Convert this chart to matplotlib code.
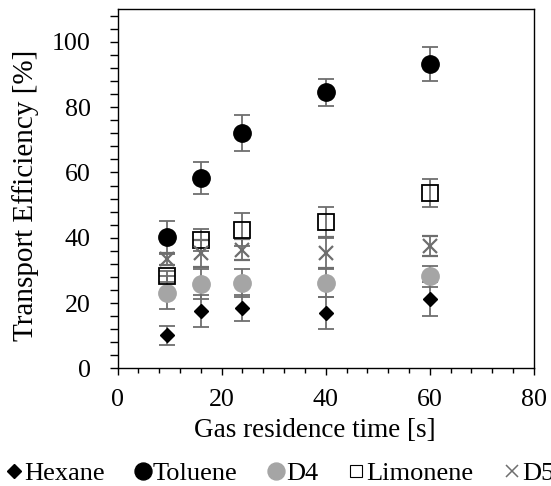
import matplotlib
matplotlib.use("Agg")
import matplotlib.pyplot as plt
from matplotlib.lines import Line2D
from matplotlib.ticker import MultipleLocator

plt.rcParams['font.family'] = ['Liberation Serif', 'TeX Gyre Termes', 'STIXGeneral', 'DejaVu Serif']

residence_time = [9.6, 16, 24, 40, 60]

hexane = [10.1, 17.6, 18.5, 17.0, 21.3]
hexane_err = [2.8, 4.9, 4.0, 5.0, 5.3]

toluene = [40.1, 58.3, 72.1, 84.6, 93.2]
toluene_err = [5.0, 4.8, 5.4, 4.1, 5.3]

d4 = [23.2, 25.8, 26.2, 26.2, 28.2]
d4_err = [5.0, 4.6, 4.2, 4.2, 3.2]

limonene = [28.2, 39.3, 42.5, 44.7, 53.8]
limonene_err = [1.7, 3.5, 5.0, 4.7, 4.3]

d5 = [33.4, 35.2, 36.3, 35.4, 37.5]
d5_err = [1.8, 4.0, 3.2, 4.8, 3.0]

series_names = ['Hexane', 'Toluene', 'D4', 'Limonene', 'D5']

fig = plt.figure(figsize=(5.51, 4.86), dpi=100)
ax = fig.add_axes([0.2133, 0.242, 0.7557, 0.739])

err_kw = dict(ecolor='#6e6e6e', elinewidth=1.3, capsize=5.5, capthick=1.3, linestyle='none')

ax.errorbar(residence_time, toluene, yerr=toluene_err, marker='o', ms=12.5,
            mfc='black', mec='black', zorder=3, **err_kw)
ax.errorbar(residence_time, d4, yerr=d4_err, marker='o', ms=12.5,
            mfc='#a5a5a5', mec='#a5a5a5', zorder=3, **err_kw)
ax.errorbar(residence_time, hexane, yerr=hexane_err, marker='D', ms=7.6,
            mfc='black', mec='black', zorder=3, **err_kw)
ax.errorbar(residence_time, limonene, yerr=limonene_err, marker='s', ms=11.5,
            mfc='none', mec='black', mew=1.3, zorder=3, **err_kw)
ax.errorbar(residence_time, d5, yerr=d5_err, marker='x', ms=10,
            mfc='none', mec='#6e6e6e', mew=1.6, zorder=3, **err_kw)

ax.set_xlim(0, 80)
ax.set_ylim(0, 110)
ax.xaxis.set_major_locator(MultipleLocator(20))
ax.xaxis.set_minor_locator(MultipleLocator(4))
ax.yaxis.set_major_locator(MultipleLocator(20))
ax.yaxis.set_minor_locator(MultipleLocator(4))
ax.set_yticks([0, 20, 40, 60, 80, 100])

ax.tick_params(axis='x', which='major', direction='out', length=5.3, width=1,
               labelsize=18.7, pad=9.5)
ax.tick_params(axis='x', which='minor', direction='out', length=3.5, width=1)
ax.tick_params(axis='y', which='major', direction='out', length=6, width=1,
               labelsize=18.7, pad=13.3)
ax.tick_params(axis='y', which='minor', direction='out', length=6, width=1)
for s in ax.spines.values():
    s.set_linewidth(1)
    s.set_color('black')

ax.set_xlabel('Gas residence time [s]', fontsize=19.5)
ax.xaxis.set_label_coords((315 - 117.5) / 416.5, (368.3 - 418) / 359)
ax.set_ylabel('Transport Efficiency [%]', fontsize=21)
ax.yaxis.set_label_coords((39 - 117.5) / 416.5, (368.3 - 195.5) / 359)

handles = [
    Line2D([], [], marker='D', ms=7.1, mfc='black', mec='black', ls='none'),
    Line2D([], [], marker='o', ms=12.2, mfc='black', mec='black', ls='none'),
    Line2D([], [], marker='o', ms=12.2, mfc='#a5a5a5', mec='#a5a5a5', ls='none'),
    Line2D([], [], marker='s', ms=8.8, mfc='none', mec='black', mew=0.8, ls='none'),
    Line2D([], [], marker='x', ms=8.4, mfc='none', mec='#6e6e6e', mew=1.1, ls='none'),
]
fig.legend(handles, series_names, loc='center left', bbox_to_anchor=(0.0134, 0.026),
           ncol=5, frameon=False, fontsize=19, handlelength=0.5, handletextpad=0.13,
           columnspacing=1.2, borderpad=0, borderaxespad=0)

fig.savefig('out.png', dpi=100)
